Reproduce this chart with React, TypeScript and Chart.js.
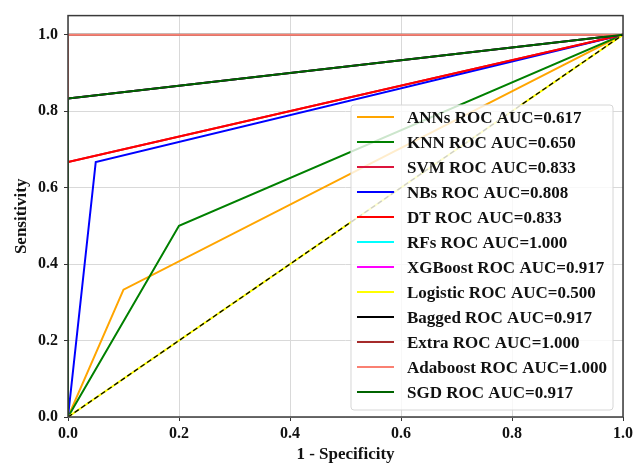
import React, { useEffect, useRef } from "react";
import { Chart, registerables } from "chart.js";

Chart.register(...registerables);

// ---- data ----
const modelNames = ["ANNs", "KNN", "SVM", "NBs", "DT", "RFs", "XGBoost", "Logistic", "Bagged", "Extra", "Adaboost", "SGD"];
const aucValues = ["0.617", "0.650", "0.833", "0.808", "0.833", "1.000", "0.917", "0.500", "0.917", "1.000", "1.000", "0.917"];
const lineColors = ["#ffa500", "#008000", "#dc143c", "#0000ff", "#ff0000", "#00ffff", "#ff00ff", "#ffff00", "#000000", "#a52a2a", "#fa8072", "#006400"];

const annFpr = [0, 0.1, 1];
const annTpr = [0, 0.333, 1];
const knnFpr = [0, 0.2, 1];
const knnTpr = [0, 0.5, 1];
const svmFpr = [0, 0, 1];
const svmTpr = [0, 0.667, 1];
const nbFpr = [0, 0.05, 1];
const nbTpr = [0, 0.667, 1];
const dtFpr = [0, 0, 1];
const dtTpr = [0, 0.667, 1];
const rfFpr = [0, 0, 1];
const rfTpr = [0, 1, 1];
const xgbFpr = [0, 0, 1];
const xgbTpr = [0, 0.833, 1];
const logFpr = [0, 1];
const logTpr = [0, 1];
const bagFpr = [0, 0, 1];
const bagTpr = [0, 0.833, 1];
const extraFpr = [0, 0, 1];
const extraTpr = [0, 1, 1];
const adaFpr = [0, 0, 1];
const adaTpr = [0, 1, 1];
const sgdFpr = [0, 0, 1];
const sgdTpr = [0, 0.833, 1];
const chanceFpr = [0, 1];
const chanceTpr = [0, 1];

const curvesFpr = [annFpr, knnFpr, svmFpr, nbFpr, dtFpr, rfFpr, xgbFpr, logFpr, bagFpr, extraFpr, adaFpr, sgdFpr];
const curvesTpr = [annTpr, knnTpr, svmTpr, nbTpr, dtTpr, rfTpr, xgbTpr, logTpr, bagTpr, extraTpr, adaTpr, sgdTpr];

const tickValues = [0, 0.2, 0.4, 0.6, 0.8, 1.0];
const xTitle = "1 - Specificity";
const yTitle = "Sensitivity";

const FONT = "'Liberation Serif', 'Times New Roman', serif";

const toPoints = (xs: number[], ys: number[]) => xs.map((x, i) => ({ x, y: ys[i] }));

const boxPlugin = {
  id: "box",
  afterDatasetsDraw(chart: any) {
    const { ctx, chartArea: a } = chart;
    ctx.save();
    ctx.strokeStyle = "#3a3a3a";
    ctx.lineWidth = 1.5;
    ctx.strokeRect(a.left, a.top, a.right - a.left, a.bottom - a.top);
    ctx.restore();
  },
};

const legendPlugin = {
  id: "roclegend",
  afterDraw(chart: any) {
    const { ctx, chartArea: a } = chart;
    const items = chart.data.datasets.filter((d: any) => !d.hideLegend);
    ctx.save();
    ctx.font = `bold 17px ${FONT}`;
    let maxW = 0;
    items.forEach((d: any) => {
      maxW = Math.max(maxW, ctx.measureText(d.label).width);
    });
    const rowH = 25;
    const padL = 6, handle = 37, gap = 13, padR = 6, padT = 12, padB = 18;
    const boxW = padL + handle + gap + maxW + padR;
    const boxH = padT + padB + rowH * (items.length - 1);
    const right = a.right - 10;
    const bottom = a.bottom - 7;
    const left = right - boxW;
    const top = bottom - boxH;
    ctx.beginPath();
    const r = 3;
    ctx.moveTo(left + r, top);
    ctx.lineTo(right - r, top);
    ctx.quadraticCurveTo(right, top, right, top + r);
    ctx.lineTo(right, bottom - r);
    ctx.quadraticCurveTo(right, bottom, right - r, bottom);
    ctx.lineTo(left + r, bottom);
    ctx.quadraticCurveTo(left, bottom, left, bottom - r);
    ctx.lineTo(left, top + r);
    ctx.quadraticCurveTo(left, top, left + r, top);
    ctx.closePath();
    ctx.fillStyle = "rgba(255,255,255,0.8)";
    ctx.fill();
    ctx.strokeStyle = "#d6d6d6";
    ctx.lineWidth = 1;
    ctx.stroke();
    items.forEach((d: any, i: number) => {
      const y = top + padT + i * rowH;
      ctx.beginPath();
      ctx.strokeStyle = d.borderColor;
      ctx.lineWidth = 2;
      ctx.moveTo(left + padL, y);
      ctx.lineTo(left + padL + handle, y);
      ctx.stroke();
      ctx.fillStyle = "#111";
      ctx.textBaseline = "middle";
      ctx.textAlign = "left";
      ctx.fillText(d.label, left + padL + handle + gap, y + 2);
    });
    ctx.restore();
  },
};

export default function App() {
  const ref = useRef<HTMLCanvasElement | null>(null);
  useEffect(() => {
    if (!ref.current) return;
    const n = modelNames.length;
    const datasets: any[] = modelNames.map((name, i) => ({
      label: `${name} ROC AUC=${aucValues[i]}`,
      data: toPoints(curvesFpr[i], curvesTpr[i]),
      borderColor: lineColors[i],
      backgroundColor: lineColors[i],
      borderWidth: 2,
      pointRadius: 0,
      showLine: true,
      fill: false,
      tension: 0,
      clip: 0,
      order: n + 1 - i,
    }));
    datasets.push({
      label: "chance",
      hideLegend: true,
      data: toPoints(chanceFpr, chanceTpr),
      borderColor: "#000000",
      borderWidth: 1.3,
      borderDash: [5, 3],
      pointRadius: 0,
      showLine: true,
      fill: false,
      clip: 0,
      order: 0,
    });
    const tickFont = { family: FONT, weight: "bold" as const, size: 16 };
    const chart = new Chart(ref.current, {
      type: "scatter",
      data: { datasets },
      plugins: [boxPlugin, legendPlugin],
      options: {
        animation: false,
        responsive: false,
        maintainAspectRatio: false,
        layout: { padding: { top: 14, right: 17, left: 0, bottom: 0 } },
        plugins: { legend: { display: false }, tooltip: { enabled: false } },
        scales: {
          x: {
            type: "linear",
            min: 0,
            max: 1,
            afterBuildTicks: (s: any) => {
              s.ticks = tickValues.map((v) => ({ value: v }));
            },
            afterFit: (s: any) => {
              s.height = 46;
            },
            ticks: {
              font: tickFont,
              color: "#111",
              padding: 3,
              maxRotation: 0,
              callback: (v: any) => Number(v).toFixed(1),
            },
            grid: { color: "#d9d9d9", lineWidth: 1, tickLength: 4, tickColor: "#333", drawOnChartArea: true },
            border: { display: false },
            title: { display: true, text: xTitle, font: { family: FONT, weight: "bold", size: 17, lineHeight: 1 }, color: "#111", padding: { top: 0, bottom: 0 } },
          },
          y: {
            type: "linear",
            min: 0,
            max: 1.05,
            afterBuildTicks: (s: any) => {
              s.ticks = tickValues.map((v) => ({ value: v }));
            },
            afterFit: (s: any) => {
              s.width = 68;
            },
            ticks: {
              font: tickFont,
              color: "#111",
              padding: 6,
              callback: (v: any) => Number(v).toFixed(1),
            },
            grid: { color: "#d9d9d9", lineWidth: 1, tickLength: 4, tickColor: "#333" },
            border: { display: false },
            title: { display: true, text: yTitle, font: { family: FONT, weight: "bold", size: 17, lineHeight: 1 }, color: "#111", padding: { top: 13, bottom: 0 } },
          },
        },
      },
    });
    return () => chart.destroy();
  }, []);
  return (
    <div style={{ position: "fixed", left: 0, top: 0, width: 640, height: 463, background: "#fff" }}>
      <canvas ref={ref} width={640} height={463} style={{ width: 640, height: 463 }} />
    </div>
  );
}
